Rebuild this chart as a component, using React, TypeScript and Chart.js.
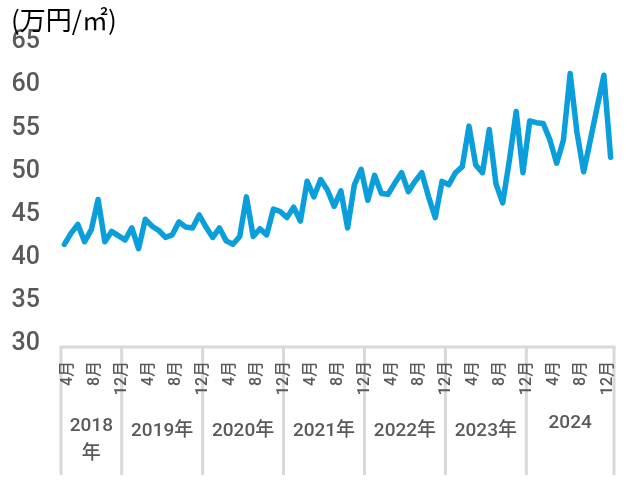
import React, { useEffect, useRef } from "react";
import { Chart, registerables } from "chart.js";

Chart.register(...registerables);

// ---- data ----
const yearGroups = ["2018\n年", "2019年", "2020年", "2021年", "2022年", "2023年", "2024"];
const groupStartMonth = [4, 1, 1, 1, 1, 1, 1];
const values2018 = [41.9, 43.2, 44.2, 42.2, 43.6, 47.1, 42.2, 43.4, 42.9];
const values2019 = [42.4, 43.8, 41.4, 44.8, 44.0, 43.5, 42.7, 43.0, 44.5, 43.9, 43.8, 45.3];
const values2020 = [43.9, 42.7, 43.8, 42.3, 41.9, 42.8, 47.4, 42.8, 43.7, 43.0, 46.0, 45.7];
const values2021 = [45.0, 46.2, 44.6, 49.2, 47.4, 49.4, 48.2, 46.3, 48.1, 43.8, 48.8, 50.6];
const values2022 = [47.0, 49.9, 47.8, 47.7, 49.0, 50.2, 48.0, 49.2, 50.2, 47.4, 45.0, 49.2];
const values2023 = [48.8, 50.2, 50.9, 55.6, 51.1, 50.2, 55.2, 48.9, 46.7, 51.7, 57.3, 50.2];
const values2024 = [56.2, 56.0, 55.9, 54.0, 51.3, 54.0, 61.7, 54.9, 50.3, 54.0, 57.8, 61.5, 52.0];
const groupValues = [values2018, values2019, values2020, values2021, values2022, values2023, values2024];
const monthTickLabels = ["4月", "8月", "12月"];
const yMin = 30;
const yMax = 65;
const yStep = 5;
const unitLabel = "(万円/㎡)";

// ---- derived ----
const categories: string[] = [];
const monthOfCategory: number[] = [];
groupValues.forEach((vals, g) => {
  vals.forEach((_, k) => {
    const m0 = groupStartMonth[g] + k;
    const m = ((m0 - 1) % 12) + 1;
    categories.push(`${2018 + g + Math.floor((m0 - 1) / 12)}/${m}`);
    monthOfCategory.push(m);
  });
});
const seriesValues: number[] = groupValues.flat();

const LINE_COLOR = "#0A9FDB";
const TEXT_COLOR = "#595959";
const FRAME_COLOR = "#D9D9D9";
const NUM_FONT = "Roboto, 'Noto Sans CJK JP', sans-serif";
const yearLabelY = [79, 84, 84, 84, 84, 84, 76];

const groupPlugin = {
  id: "yearGroups",
  afterDraw(chart: any) {
    const { ctx, chartArea, scales } = chart;
    const x = scales.x;
    const n = categories.length;
    const step = x.getPixelForValue(1) - x.getPixelForValue(0);
    const yTop = chartArea.bottom;
    const yBot = yTop + 128;
    const left = x.getPixelForValue(0) - step / 2;
    const right = x.getPixelForValue(n - 1) + step / 2;
    const bounds: number[] = [left];
    let idx = 0;
    groupValues.forEach((vals) => {
      idx += vals.length;
      bounds.push(x.getPixelForValue(idx - 1) + step / 2);
    });
    ctx.save();
    ctx.strokeStyle = FRAME_COLOR;
    ctx.lineWidth = 3;
    ctx.beginPath();
    ctx.moveTo(left - 1.5, yTop);
    ctx.lineTo(right + 1.5, yTop);
    ctx.stroke();
    bounds.forEach((bx) => {
      ctx.beginPath();
      ctx.moveTo(bx, yTop);
      ctx.lineTo(bx, yBot);
      ctx.stroke();
    });

    // month tick labels (rotated)
    ctx.fillStyle = TEXT_COLOR;
    ctx.font = "500 16px Roboto, 'Noto Sans CJK JP', sans-serif";
    ctx.textAlign = "right";
    ctx.textBaseline = "middle";
    for (let i = 0; i < n; i++) {
      const lbl = `${monthOfCategory[i]}月`;
      if (!monthTickLabels.includes(lbl) || i === n - 1) continue;
      const px = x.getPixelForValue(i) + 4;
      ctx.save();
      ctx.translate(px, yTop + 14);
      ctx.rotate(-Math.PI / 2);
      ctx.fillText(lbl, 0, 0);
      ctx.restore();
    }

    // year labels
    ctx.font = `500 19px ${NUM_FONT}`;
    ctx.textAlign = "center";
    ctx.textBaseline = "middle";
    yearGroups.forEach((label, g) => {
      const cx = (bounds[g] + bounds[g + 1]) / 2;
      const lines = label.split("\n");
      lines.forEach((ln, li) => {
        ctx.fillText(ln, cx, yTop + yearLabelY[g] + li * 28);
      });
    });
    ctx.restore();

    ctx.save();
    ctx.fillStyle = "#000000";
    ctx.font = "26px 'Noto Sans CJK JP', sans-serif";
    ctx.textAlign = "left";
    ctx.textBaseline = "middle";
    ctx.fillText(unitLabel, 11, 20);
    ctx.restore();
  },
};

export default function App() {
  const canvasRef = useRef<HTMLCanvasElement | null>(null);
  useEffect(() => {
    document.body.style.margin = "0";
    const canvas = canvasRef.current;
    if (!canvas) return;
    const chart = new Chart(canvas, {
      type: "line",
      data: {
        labels: categories,
        datasets: [
          {
            data: seriesValues,
            borderColor: LINE_COLOR,
            backgroundColor: LINE_COLOR,
            borderWidth: 5.5,
            borderJoinStyle: "round",
            borderCapStyle: "round",
            pointRadius: 0,
            tension: 0,
            fill: false,
          },
        ],
      },
      options: {
        animation: false,
        responsive: false,
        maintainAspectRatio: false,
        layout: { padding: { left: 0, right: 17, top: 45, bottom: 35 } },
        plugins: {
          legend: { display: false },
          tooltip: { enabled: false },
          title: { display: false },
        },
        scales: {
          x: {
            type: "category",
            offset: true,
            grid: { display: false, drawTicks: false },
            border: { display: false },
            ticks: { display: false },
            afterFit: (s: any) => {
              s.height = 100;
            },
          },
          y: {
            min: yMin,
            max: yMax,
            grid: { display: false, drawTicks: false },
            border: { display: false },
            ticks: {
              stepSize: yStep,
              padding: 21,
              labelOffset: -3,
              color: TEXT_COLOR,
              font: { family: NUM_FONT, size: 25, weight: "500" },
            },
            afterFit: (s: any) => {
              s.width = 61;
            },
          },
        },
      },
      plugins: [groupPlugin],
    });
    return () => chart.destroy();
  }, []);
  return (
    <div style={{ width: 631, height: 482 }}>
      <canvas ref={canvasRef} width={631} height={482} style={{ display: "block" }} />
    </div>
  );
}
